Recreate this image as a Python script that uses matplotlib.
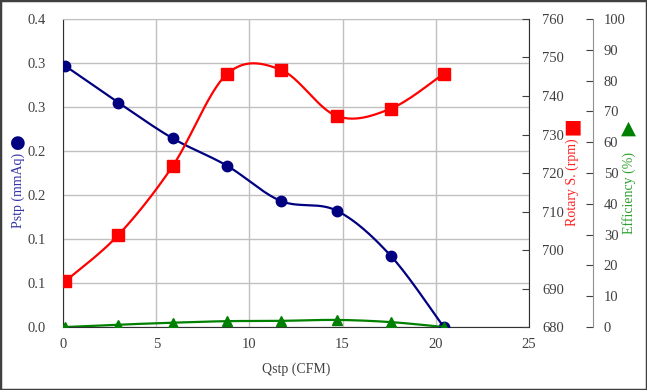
import numpy as np
import matplotlib.pyplot as plt
from matplotlib.patches import Rectangle

# data
qstp = [0.1, 2.95, 5.87, 8.79, 11.69, 14.69, 17.59, 20.44]
pstp = [0.2966, 0.255, 0.2144, 0.1833, 0.1432, 0.1322, 0.081, 0.0]
rpm = [691.9, 703.9, 721.8, 745.7, 746.8, 734.8, 736.7, 745.8]
eff = [0.0, 0.75, 1.4, 1.9, 2.0, 2.3, 1.6, 0.0]

pstp_ticks = [0, 0.05, 0.1, 0.15, 0.2, 0.25, 0.3, 0.35]
pstp_labels = ["0.0", "0.1", "0.1", "0.2", "0.2", "0.3", "0.3", "0.4"]


def smooth(x, y, n=30):
    # excel-like smoothed line (catmull-rom as cubic bezier)
    x = np.asarray(x, float)
    y = np.asarray(y, float)
    px = np.concatenate([[x[0]], x, [x[-1]]])
    py = np.concatenate([[y[0]], y, [y[-1]]])
    t = np.linspace(0, 1, n)
    xs, ys = [], []
    for i in range(1, len(px) - 2):
        c1x = px[i] + (px[i + 1] - px[i - 1]) / 6
        c1y = py[i] + (py[i + 1] - py[i - 1]) / 6
        c2x = px[i + 1] - (px[i + 2] - px[i]) / 6
        c2y = py[i + 1] - (py[i + 2] - py[i]) / 6
        b0 = (1 - t) ** 3
        b1 = 3 * (1 - t) ** 2 * t
        b2 = 3 * (1 - t) * t ** 2
        b3 = t ** 3
        xs.append(b0 * px[i] + b1 * c1x + b2 * c2x + b3 * px[i + 1])
        ys.append(b0 * py[i] + b1 * c1y + b2 * c2y + b3 * py[i + 1])
    return np.concatenate(xs), np.concatenate(ys)


plt.rcParams['font.family'] = ['Liberation Serif', 'DejaVu Sans']
plt.rcParams['font.size'] = 10.5

fig = plt.figure(figsize=(6.47, 3.90), dpi=100)
ax = fig.add_axes([0.0981, 0.1615, 0.7188, 0.7898])
ax2 = ax.twinx()
ax3 = ax.twinx()

tick_col = '#404040'

# Pstp
sx, sy = smooth(qstp, pstp)
ax.plot(sx, sy, color='#000080', lw=1.6, zorder=3)
ax.plot(qstp, pstp, 'o', color='#000080', ms=7.5, zorder=4)
ax.set_xlim(0, 25)
ax.set_ylim(0, 0.35)
ax.set_yticks(pstp_ticks)
ax.set_yticklabels(pstp_labels)
ax.set_xticks([0, 5, 10, 15, 20, 25])
ax.grid(True, color='#c0c0c0', lw=1)
ax.set_axisbelow(True)
ax.tick_params(axis='y', direction='in', length=0, pad=13, colors=tick_col)
ax.tick_params(axis='x', direction='in', length=0, pad=8, colors=tick_col)
ax.set_xlabel('Qstp (CFM)', color=tick_col, labelpad=8, fontsize=10)
for s in ['left', 'bottom']:
    ax.spines[s].set_color('#303030')
ax.spines['top'].set_color('#c0c0c0')
ax.spines['right'].set_visible(False)

# rotary speed
sx, sy = smooth(qstp, rpm)
ax2.plot(sx, sy, color='#ff0000', lw=1.6, zorder=3)
ax2.plot(qstp, rpm, 's', color='#ff0000', ms=8, zorder=4)
ax2.set_ylim(680, 760)
ax2.set_yticks(np.arange(680, 761, 10))
ax2.tick_params(axis='y', direction='in', length=5, pad=10, colors=tick_col)
ax2.spines['right'].set_color('#303030')
for s in ['left', 'top', 'bottom']:
    ax2.spines[s].set_visible(False)

# efficiency
sx, sy = smooth(qstp, eff)
ax3.plot(sx, sy, color='#008000', lw=1.6, zorder=3)
ax3.plot(qstp, eff, '^', color='#008000', ms=7, zorder=4)
ax3.set_ylim(0, 100)
ax3.set_yticks(np.arange(0, 101, 10))
ax3.spines['right'].set_position(('axes', 1.138))
ax3.spines['right'].set_color('#909090')
for s in ['left', 'top', 'bottom']:
    ax3.spines[s].set_visible(False)
ax3.tick_params(axis='y', direction='in', length=5, pad=8, colors=tick_col)

# axis titles with symbols
fig.text(0.028, 0.511, 'Pstp (mmAq)', rotation=90, color='#3333aa',
         ha='center', va='center', fontsize=10)
fig.text(0.027, 0.633, '●', color='#000080', fontsize=13,
         ha='center', va='center', family='DejaVu Sans')
fig.text(0.884, 0.534, 'Rotary S. (rpm)', rotation=90, color='#ff2020',
         ha='center', va='center', fontsize=10)
fig.text(0.884, 0.675, '■', color='#ff0000', fontsize=14,
         ha='center', va='center', family='DejaVu Sans')
fig.text(0.972, 0.505, 'Efficiency (%)', rotation=90, color='#30a030',
         ha='center', va='center', fontsize=10)
fig.text(0.972, 0.672, '▲', color='#008000', fontsize=14,
         ha='center', va='center', family='DejaVu Sans')

fig.patches.append(Rectangle((0, 0), 1, 1, transform=fig.transFigure,
                             fill=False, ec='#404040', lw=2.5, zorder=10))

fig.savefig('out.png', dpi=100)
